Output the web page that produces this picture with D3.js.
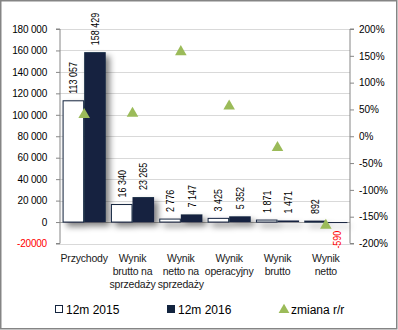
<!DOCTYPE html>
<html>
<head>
<meta charset="utf-8">
<script src="https://cdn.jsdelivr.net/npm/d3@7"></script>
<style>
  html, body { margin: 0; padding: 0; background: #fff; }
  svg { display: block; }
  text { font-family: "Liberation Sans", Arial, sans-serif; }
</style>
</head>
<body>
<svg id="chart" width="398" height="330"></svg>
<script>
// ---- data ----
const categories = [["Przychody"], ["Wynik", "brutto na", "sprzedaży"], ["Wynik", "netto na", "sprzedaży"], ["Wynik", "operacyjny"], ["Wynik", "brutto"], ["Wynik", "netto"]];
const series2015 = [113057, 16340, 2776, 3425, 1871, 892];
const series2016 = [158429, 23265, 7147, 5352, 1471, -590];
const changeYoY = [0.401, 0.424, 1.575, 0.563, -0.214, -1.661];
const leftTicks = [-20000, 0, 20000, 40000, 60000, 80000, 100000, 120000, 140000, 160000, 180000];
const rightTicks = [-2, -1.5, -1, -0.5, 0, 0.5, 1, 1.5, 2];
const seriesNames = ["12m 2015", "12m 2016", "zmiana r/r"];

const navy = "#13243f";
const green = "#9bbb59";
const fmt = v => {
  const s = d3.format(",")(Math.abs(v)).replace(/,/g, "\u00a0");
  return v < 0 ? "-" + s.replace(/\u00a0/g, "") : s;
};

const svg = d3.select("#chart");
const defs = svg.append("defs");
const f = defs.append("filter").attr("id", "shadow").attr("x", "-30%").attr("y", "-30%").attr("width", "180%").attr("height", "180%");
f.append("feGaussianBlur").attr("in", "SourceAlpha").attr("stdDeviation", 3).attr("result", "b");
f.append("feOffset").attr("in", "b").attr("dx", 4).attr("dy", 4).attr("result", "o");
f.append("feComponentTransfer").attr("in", "o").attr("result", "s")
  .append("feFuncA").attr("type", "linear").attr("slope", 0.5);
const m = f.append("feMerge");
m.append("feMergeNode").attr("in", "s");
m.append("feMergeNode").attr("in", "SourceGraphic");

// border
svg.append("rect").attr("x", 0.75).attr("y", 0.75).attr("width", 396).attr("height", 328)
  .attr("fill", "#fff").attr("stroke", "#858585").attr("stroke-width", 1.5);

const pLeft = 60, pRight = 350, pTop = 29, pBottom = 243.5;
const y = d3.scaleLinear().domain([-20000, 180000]).range([pBottom, pTop]);
const yR = d3.scaleLinear().domain([-2, 2]).range([pBottom, pTop]);
const idx = d3.range(categories.length);
const x0 = d3.scaleBand().domain(idx).range([pLeft, pRight]).padding(0);
const x1 = d3.scaleBand().domain([0, 1]).range([0, x0.bandwidth()]).paddingInner(0).paddingOuter(0.12);

// gridlines
svg.append("g").selectAll("line").data(leftTicks).join("line")
  .attr("x1", pLeft).attr("x2", pRight)
  .attr("y1", d => Math.round(y(d)) + 0.5).attr("y2", d => Math.round(y(d)) + 0.5)
  .attr("stroke", d => d === 0 ? "#a6a6a6" : "#d9d9d9").attr("stroke-width", 1);

// bars
const barG = svg.append("g").attr("filter", "url(#shadow)");
const bars = [];
idx.forEach(i => {
  bars.push({ i, s: 0, v: series2015[i] });
  bars.push({ i, s: 1, v: series2016[i] });
});
barG.selectAll("rect").data(bars).join("rect")
  .attr("x", d => x0(d.i) + x1(d.s) + (d.s === 0 ? 0.5 : 0))
  .attr("width", d => x1.bandwidth() - (d.s === 0 ? 1 : 0))
  .attr("y", d => y(Math.max(0, d.v)))
  .attr("height", d => Math.max(1, Math.abs(y(d.v) - y(0))))
  .attr("fill", d => d.s === 0 ? "#fff" : navy)
  .attr("stroke", d => d.s === 0 ? navy : "none")
  .attr("stroke-width", 1);

// data labels
svg.append("g").selectAll("text").data(bars).join("text")
  .attr("transform", d => {
    const cx = x0(d.i) + x1(d.s) + x1.bandwidth() / 2;
    const cy = d.v >= 0 ? y(d.v) - 7 : y(d.v) + 8;
    return `translate(${cx},${cy}) rotate(-90) scale(0.78,1)`;
  })
  .attr("text-anchor", d => d.v >= 0 ? "start" : "end")
  .attr("dominant-baseline", "central")
  .attr("font-size", 11.5)
  .attr("fill", d => d.v < 0 ? "#ff0000" : "#000")
  .text(d => fmt(d.v));

// triangles
svg.append("g").selectAll("path").data(idx).join("path")
  .attr("transform", i => `translate(${x0(i) + x0.bandwidth() / 2},${yR(changeYoY[i])})`)
  .attr("d", d3.symbol(d3.symbolTriangle, 58))
  .attr("fill", green);

// left axis
const axL = svg.append("g").attr("transform", `translate(${pLeft},0)`)
  .call(d3.axisLeft(y).tickValues(leftTicks).tickSize(4).tickPadding(9)
    .tickFormat(d => d < 0 ? String(d) : fmt(d)));
axL.select(".domain").attr("stroke", "#868686").attr("d", `M-4,${pTop}H0V${pBottom}H-4`);
axL.selectAll(".tick line").attr("stroke", "#868686");
axL.selectAll(".tick text").attr("font-size", 10).attr("font-family", "'Liberation Sans', Arial, sans-serif")
  .attr("letter-spacing", -0.2)
  .attr("fill", d => d < 0 ? "#ff0000" : "#000");

// right axis
const axR = svg.append("g").attr("transform", `translate(${pRight},0)`)
  .call(d3.axisRight(yR).tickValues(rightTicks).tickSize(4).tickPadding(5)
    .tickFormat(d => Math.round(d * 100) + "%"));
axR.select(".domain").attr("stroke", "#868686").attr("d", `M4,${pTop}H0V${pBottom}H4`);
axR.selectAll(".tick line").attr("stroke", "#868686");
axR.selectAll(".tick text").attr("font-size", 10).attr("font-family", "'Liberation Sans', Arial, sans-serif").attr("fill", "#000");

// category labels
const catG = svg.append("g");
idx.forEach(i => {
  const t = catG.append("text")
    .attr("x", x0(i) + x0.bandwidth() / 2).attr("y", 261.5)
    .attr("text-anchor", "middle").attr("font-size", 10.5).attr("letter-spacing", -0.2).attr("fill", "#1a1a1a");
  categories[i].forEach((line, k) => {
    t.append("tspan").attr("x", x0(i) + x0.bandwidth() / 2).attr("dy", k === 0 ? 0 : 13).text(line);
  });
});

// legend
const lg = svg.append("g");
lg.append("rect").attr("x", 55.5).attr("y", 305.5).attr("width", 7).attr("height", 7)
  .attr("fill", "#fff").attr("stroke", navy);
lg.append("text").attr("x", 66).attr("y", 313.5).attr("font-size", 12).text(seriesNames[0]);
lg.append("rect").attr("x", 167).attr("y", 305).attr("width", 8).attr("height", 8).attr("fill", navy);
lg.append("text").attr("x", 178).attr("y", 313.5).attr("font-size", 12).text(seriesNames[1]);
lg.append("path").attr("transform", "translate(284,310)").attr("d", d3.symbol(d3.symbolTriangle, 50)).attr("fill", green);
lg.append("text").attr("x", 291).attr("y", 313.5).attr("font-size", 12).text(seriesNames[2]);
</script>
</body>
</html>
